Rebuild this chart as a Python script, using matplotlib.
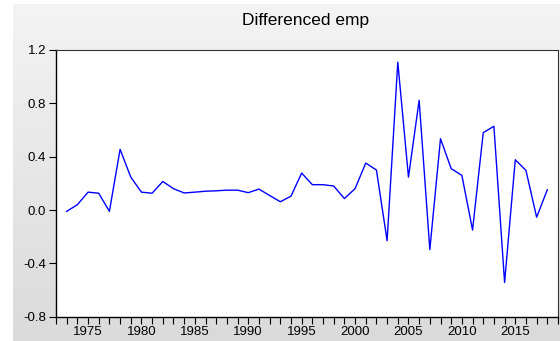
import matplotlib
matplotlib.use("Agg")
import matplotlib.pyplot as plt
import numpy as np
from matplotlib.ticker import MultipleLocator

years = list(range(1973, 2019))
values = [-0.01, 0.04, 0.134, 0.126, -0.01, 0.455, 0.247, 0.134, 0.126, 0.214,
          0.16, 0.128, 0.134, 0.141, 0.144, 0.149, 0.149, 0.13, 0.157, 0.109,
          0.062, 0.104, 0.277, 0.19, 0.19, 0.18, 0.086, 0.16, 0.352, 0.30,
          -0.23, 1.109, 0.247, 0.823, -0.297, 0.535, 0.31, 0.26, -0.15, 0.58,
          0.628, -0.543, 0.377, 0.297, -0.054, 0.152]
title = "Differenced emp"
yticks = [-0.8, -0.4, 0.0, 0.4, 0.8, 1.2]
xticks = [1975, 1980, 1985, 1990, 1995, 2000, 2005, 2010, 2015]

W, H = 560, 341
fig = plt.figure(figsize=(W / 100, H / 100), dpi=100)
fig.patch.set_facecolor("white")

# gray gradient panel
bg = fig.add_axes([13 / W, 0, 1 - 13 / W, 1 - 4 / H])
grad = np.linspace(0.955, 0.855, 256).reshape(-1, 1)
bg.imshow(np.dstack([grad, grad, grad]), aspect="auto", extent=[0, 1, 0, 1])
bg.set_axis_off()

ax = fig.add_axes([56 / W, 1 - 316.7 / H, (558 - 56) / W, (316.7 - 50) / H])
ax.plot(years, values, color="#0000ff", lw=1.0)
ax.set_xlim(1972, 2019)
ax.set_ylim(-0.8, 1.2)
ax.set_yticks(yticks)
ax.set_yticklabels([f"{v:.1f}" for v in yticks])
ax.set_xticks(xticks)
ax.xaxis.set_minor_locator(MultipleLocator(1))
ax.tick_params(axis="both", which="both", direction="out", length=5, width=0.8,
               labelsize=9.5, colors="black", pad=2)
for s in ["top", "right"]:
    ax.spines[s].set_linewidth(0.8)
    ax.spines[s].set_color("#333333")
for s in ["left", "bottom"]:
    ax.spines[s].set_linewidth(1.0)
ax.set_facecolor("white")
fig.text(306 / W, 1 - 20 / H, title, ha="center", va="center", fontsize=12.5,
         family="Liberation Sans")
for lab in ax.get_xticklabels() + ax.get_yticklabels():
    lab.set_family("Liberation Sans")

fig.savefig("out.png", dpi=100)
